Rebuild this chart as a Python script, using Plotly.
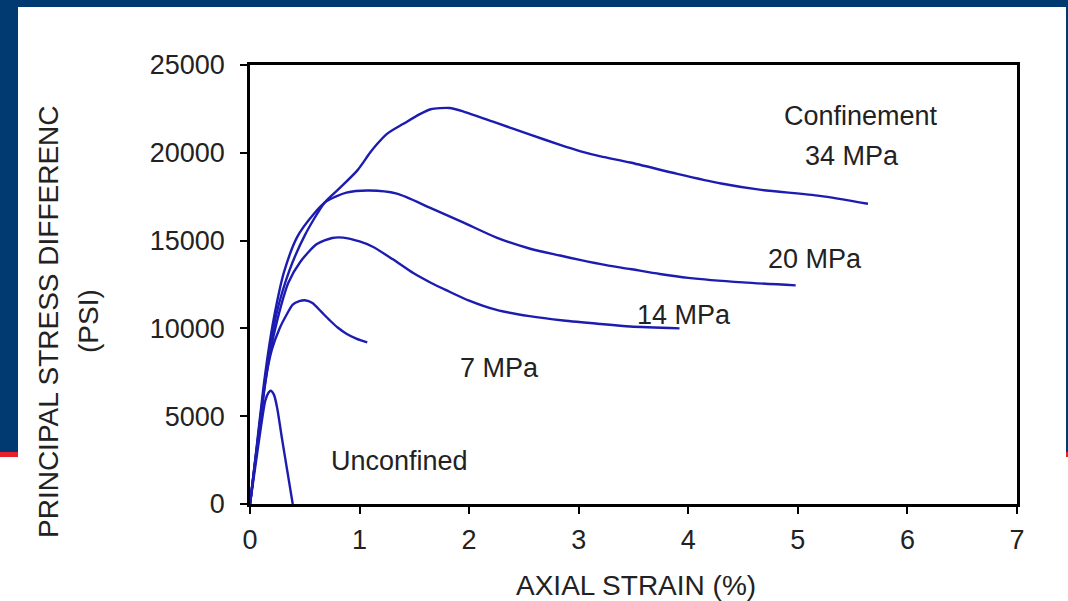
import plotly.graph_objects as go

# ---- data ----
unconf_x = [0, 0.05, 0.10, 0.14, 0.17, 0.19, 0.22, 0.25, 0.29, 0.34, 0.39]
unconf_y = [0, 2200, 4400, 5900, 6350, 6450, 6200, 5400, 3800, 1900, 0]

mpa7_x = [0, 0.07, 0.14, 0.20, 0.27, 0.34, 0.39, 0.45, 0.50, 0.57, 0.65, 0.73, 0.80, 0.88, 0.97, 1.07]
mpa7_y = [0, 3500, 7000, 8800, 10000, 10850, 11360, 11550, 11600, 11450, 10950, 10450, 10050, 9700, 9420, 9200]

mpa14_x = [0, 0.06, 0.12, 0.18, 0.25, 0.35, 0.46, 0.61, 0.75, 0.85, 1.00, 1.12, 1.30, 1.49, 1.65, 1.79, 2.00, 2.25, 2.55, 2.86, 3.20, 3.47, 3.92]
mpa14_y = [0, 3000, 6000, 8500, 10500, 12600, 13800, 14800, 15150, 15170, 14950, 14650, 13950, 13150, 12600, 12180, 11580, 11050, 10700, 10450, 10250, 10110, 10000]

mpa20_x = [0, 0.06, 0.12, 0.18, 0.24, 0.31, 0.43, 0.58, 0.70, 0.88, 1.09, 1.34, 1.64, 1.95, 2.25, 2.55, 2.83, 3.01, 3.25, 3.47, 3.74, 4.0, 4.5, 4.98]
mpa20_y = [0, 3200, 6500, 9200, 11300, 13200, 15200, 16500, 17250, 17730, 17850, 17670, 16880, 16020, 15170, 14550, 14150, 13900, 13600, 13380, 13100, 12880, 12620, 12450]

mpa34_x = [0, 0.06, 0.12, 0.18, 0.24, 0.36, 0.50, 0.68, 0.82, 0.98, 1.095, 1.16, 1.25, 1.40, 1.55, 1.65, 1.82, 1.95, 2.25, 2.55, 2.83, 3.01, 3.20, 3.47, 3.90, 4.30, 4.65, 5.20, 5.64]
mpa34_y = [0, 3100, 6200, 8800, 10800, 13300, 15300, 17160, 18000, 19000, 20000, 20500, 21080, 21650, 22200, 22480, 22550, 22350, 21700, 21050, 20450, 20100, 19800, 19450, 18800, 18250, 17900, 17550, 17100]

series = [
    ("Unconfined", unconf_x, unconf_y),
    ("7 MPa", mpa7_x, mpa7_y),
    ("14 MPa", mpa14_x, mpa14_y),
    ("20 MPa", mpa20_x, mpa20_y),
    ("34 MPa", mpa34_x, mpa34_y),
]

# label texts and positions (data coords)
label_text = ["Confinement", "34 MPa", "20 MPa", "14 MPa", "7 MPa", "Unconfined"]
label_x = [5.58, 5.49, 5.16, 3.96, 2.28, 1.36]
label_y = [22100, 19830, 13980, 10740, 7730, 2440]

x_ticks = [0, 1, 2, 3, 4, 5, 6, 7]
y_ticks = [0, 5000, 10000, 15000, 20000, 25000]

x_title = "AXIAL STRAIN (%)"
y_title_1 = "PRINCIPAL STRESS DIFFERENC"
y_title_2 = "(PSI)"

FONT = "Liberation Sans, Arial, sans-serif"
LINE_COLOR = "#1c1cb0"
TXT = "#222222"

fig = go.Figure()
for name, xs, ys in series:
    fig.add_trace(go.Scatter(
        x=xs, y=ys, mode="lines", name=name,
        line=dict(color=LINE_COLOR, width=2.4, shape="spline", smoothing=0.7),
        showlegend=False, hoverinfo="skip",
    ))

# plot area in pixels: x 250..1017, y 65..504
L, R, T, B = 250, 1017, 65, 504
W, H = 1068, 601
pw, ph = R - L, B - T

def px_x(p):
    return (p - L) / pw

def px_y(p):
    return (B - p) / ph

annotations = []
for t, xx, yy in zip(label_text, label_x, label_y):
    annotations.append(dict(x=xx, y=yy, xref="x", yref="y", text=t, showarrow=False,
                            font=dict(family=FONT, size=27, color=TXT),
                            xanchor="center", yanchor="middle"))

annotations.append(dict(x=px_x(636), y=px_y(585), xref="paper", yref="paper", text=x_title,
                        showarrow=False, font=dict(family=FONT, size=28, color=TXT),
                        xanchor="center", yanchor="middle", borderpad=0))
annotations.append(dict(x=px_x(48), y=px_y(322), xref="paper", yref="paper", text=y_title_1,
                        showarrow=False, textangle=-90, font=dict(family=FONT, size=28, color=TXT),
                        xanchor="center", yanchor="middle"))
annotations.append(dict(x=px_x(88), y=px_y(321), xref="paper", yref="paper", text=y_title_2,
                        showarrow=False, textangle=-90, font=dict(family=FONT, size=28, color=TXT),
                        xanchor="center", yanchor="middle"))

BLUE = "#003a70"
RED = "#e8202a"
shapes = [
    # top bar
    dict(type="rect", xref="paper", yref="paper", x0=px_x(0), x1=px_x(W), y0=px_y(7), y1=px_y(0),
         fillcolor=BLUE, line=dict(width=0), layer="above"),
    # left strip
    dict(type="rect", xref="paper", yref="paper", x0=px_x(0), x1=px_x(18), y0=px_y(452), y1=px_y(0),
         fillcolor=BLUE, line=dict(width=0), layer="above"),
    dict(type="rect", xref="paper", yref="paper", x0=px_x(0), x1=px_x(18), y0=px_y(457), y1=px_y(452),
         fillcolor=RED, line=dict(width=0), layer="above"),
    # right strip
    dict(type="rect", xref="paper", yref="paper", x0=px_x(1066), x1=px_x(W), y0=px_y(452), y1=px_y(0),
         fillcolor=BLUE, line=dict(width=0), layer="above"),
    dict(type="rect", xref="paper", yref="paper", x0=px_x(1066), x1=px_x(W), y0=px_y(457), y1=px_y(452),
         fillcolor=RED, line=dict(width=0), layer="above"),
]

fig.update_layout(
    width=W, height=H,
    margin=dict(l=L, r=W - R, t=T, b=H - B, pad=0),
    paper_bgcolor="white", plot_bgcolor="white",
    font=dict(family=FONT, size=27, color=TXT),
    annotations=annotations,
    shapes=shapes,
    xaxis=dict(range=[0, 7], tickvals=x_ticks, ticktext=[str(v) for v in x_ticks],
               showgrid=False, zeroline=False, showline=True, linecolor="black", linewidth=2.5,
               mirror=True, ticks="outside", ticklen=7, tickwidth=2, tickcolor="black",
               tickfont=dict(family=FONT, size=27, color=TXT), ticklabelstandoff=3),
    yaxis=dict(range=[0, 25000], tickvals=y_ticks, ticktext=[str(v) for v in y_ticks],
               showgrid=False, zeroline=False, showline=True, linecolor="black", linewidth=2.5,
               mirror=True, ticks="outside", ticklen=7, tickwidth=2, tickcolor="black",
               tickfont=dict(family=FONT, size=27, color=TXT), ticklabelstandoff=10),
)

fig.write_html("out.html")
